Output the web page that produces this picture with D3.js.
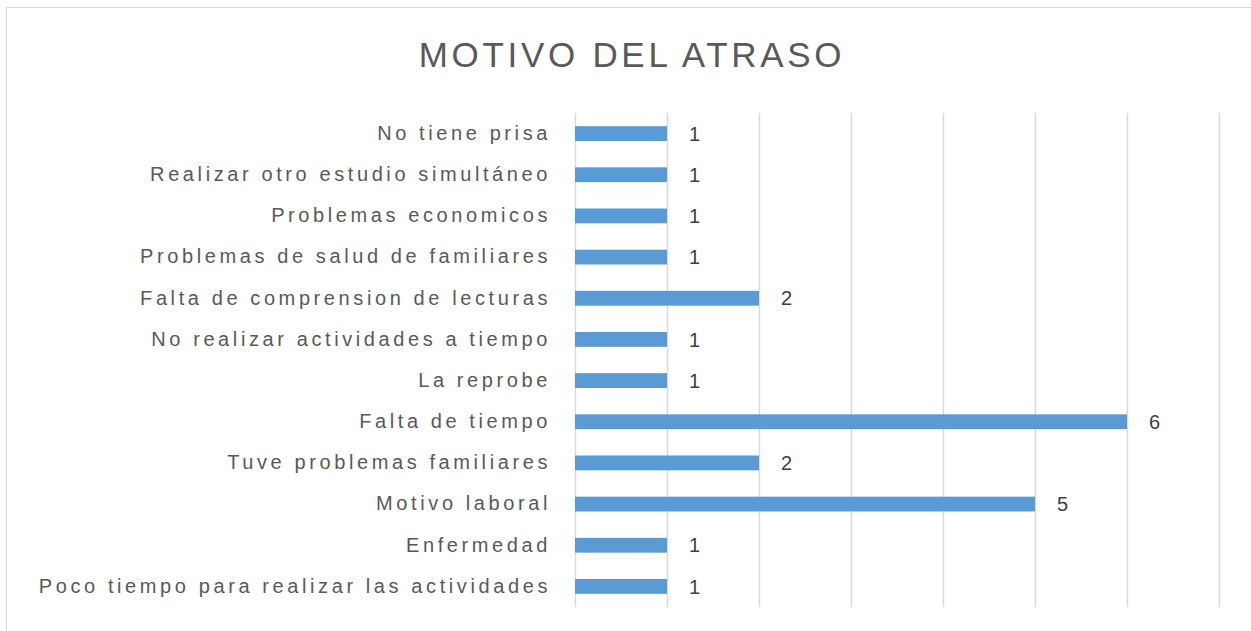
<!DOCTYPE html>
<html>
<head>
<meta charset="utf-8">
<script src="https://cdn.jsdelivr.net/npm/d3@7"></script>
<style>
  body { margin: 0; background: #fff; }
  svg { display: block; font-family: "Liberation Sans", Arial, sans-serif; }
</style>
</head>
<body>
<svg></svg>
<script>
const categories = [
    "No tiene prisa",
    "Realizar otro estudio simultáneo",
    "Problemas economicos",
    "Problemas de salud de familiares",
    "Falta de comprension de lecturas",
    "No realizar actividades a tiempo",
    "La reprobe",
    "Falta de tiempo",
    "Tuve problemas familiares",
    "Motivo laboral",
    "Enfermedad",
    "Poco tiempo para realizar las actividades"
]
const values = [1, 1, 1, 1, 2, 1, 1, 6, 2, 5, 1, 1]
const xTicks = [0, 1, 2, 3, 4, 5, 6, 7]
const title = "MOTIVO DEL ATRASO"

const width = 1251
const height = 631
const plotLeft = 575
const plotRight = 1219
const plotTop = 113
const plotBottom = 607

const svg = d3.select('svg')
    .attr('width', width)
    .attr('height', height)

// chart frame (right and bottom edges fall outside the picture)
svg.append('rect')
    .attr('x', 6.5)
    .attr('y', 7.5)
    .attr('width', width)
    .attr('height', height)
    .attr('fill', 'none')
    .attr('stroke', '#d9d9d9')

let xScale = d3.scaleLinear()
                .domain([0, 7])
                .range([plotLeft, plotRight])

let yScale = d3.scaleBand()
                .domain(categories)
                .range([plotTop, plotBottom])
                .paddingInner(0.64)
                .paddingOuter(0.32)

// vertical gridlines
let grid = d3.axisBottom(xScale)
    .tickValues(xTicks)
    .tickSize(-(plotBottom - plotTop))
    .tickFormat('')
svg.append('g')
    .attr('transform', 'translate(0,' + plotBottom + ')')
    .call(grid)
    .call(g => g.select('.domain').remove())
    .call(g => g.selectAll('line').attr('stroke', '#d9d9d9').attr('stroke-width', 1.5))

svg.selectAll('rect.bar')
    .data(values)
    .enter()
    .append('rect')
    .attr('class', 'bar')
    .attr('x', xScale(0))
    .attr('y', (d, i) => yScale(categories[i]))
    .attr('width', (d) => xScale(d) - xScale(0))
    .attr('height', yScale.bandwidth())
    .attr('fill', '#5b9bd5')

// value labels
svg.selectAll('text.val')
    .data(values)
    .enter()
    .append('text')
    .attr('class', 'val')
    .attr('x', (d) => xScale(d) + 22)
    .attr('y', (d, i) => yScale(categories[i]) + yScale.bandwidth() / 2)
    .attr('dy', '0.36em')
    .attr('font-size', 20)
    .attr('fill', '#404040')
    .text((d) => d)

// category labels
let yAxis = d3.axisLeft(yScale)
    .tickSize(0)
    .tickPadding(24)
svg.append('g')
    .attr('transform', 'translate(' + plotLeft + ',0)')
    .call(yAxis)
    .call(g => g.select('.domain').remove())
    .call(g => g.selectAll('text')
        .attr('font-size', 20)
        .attr('font-family', '"Liberation Sans", Arial, sans-serif')
        .attr('letter-spacing', 3.6)
        .attr('fill', '#595959'))

svg.append('text')
    .attr('x', 632)
    .attr('y', 67)
    .attr('text-anchor', 'middle')
    .attr('font-size', 35)
    .attr('letter-spacing', 3.7)
    .attr('fill', '#595959')
    .text(title)
</script>
</body>
</html>
